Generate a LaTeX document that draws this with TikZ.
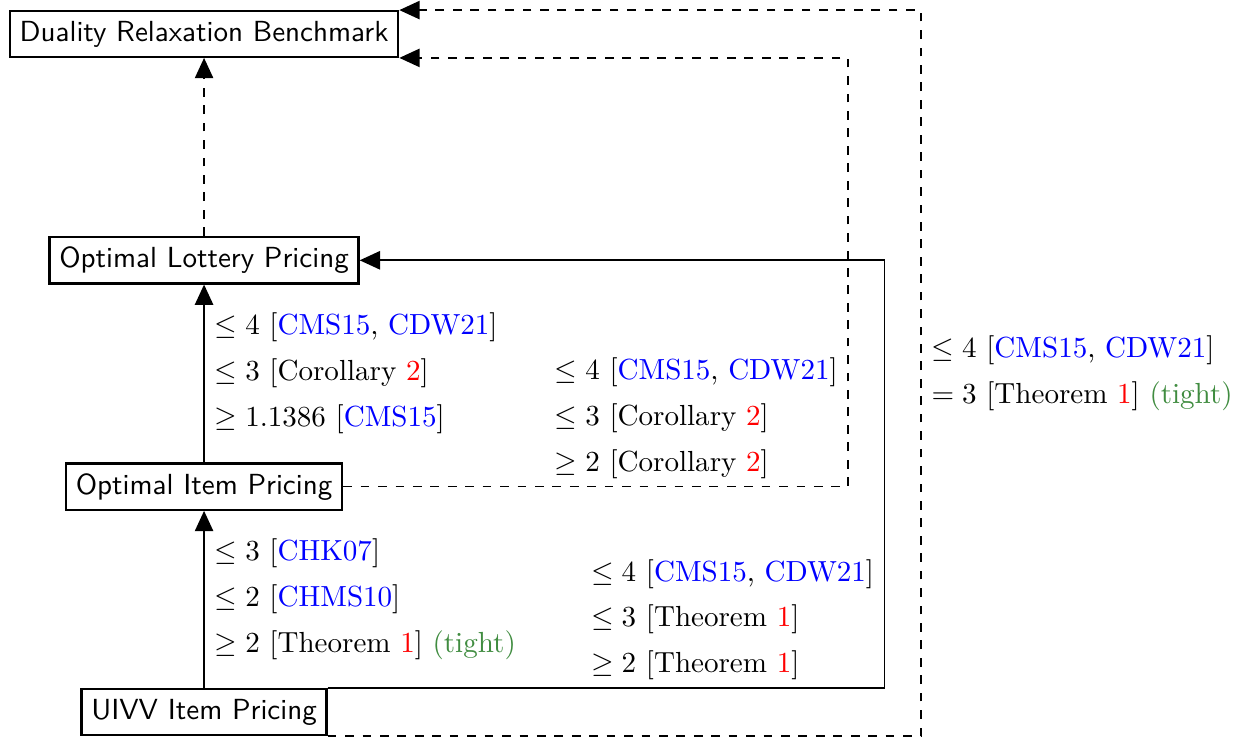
\documentclass[tikz,border=0pt]{standalone}
\usepackage{tikz}
\usetikzlibrary{positioning}
\usetikzlibrary{arrows.meta}
\usetikzlibrary{calc}

\begin{document}
\begin{tikzpicture}
  [box/.style={draw=black,thick,font=\sffamily,inner sep=3.33pt},
  bound/.style={align=left,inner sep=3.33pt,draw=none},
  every path/.style={semithick},
  >={Triangle[length=7pt,width=6.3pt]}]
  \useasboundingbox (-2.468,0.411) rectangle (12.565,-8.542);

  \node[box] (drb) at (0,0) {Duality Relaxation Benchmark};
  \node[box] (olp) at (0,-2.737) {Optimal Lottery Pricing};
  \node[box] (oip) at (0,-5.474) {Optimal Item Pricing};
  \node[box] (uivv) at (0,-8.20) {UIVV Item Pricing};

  \coordinate (c1) at (7.79,0);
  \coordinate (c2) at (8.23,0);
  \coordinate (c3) at (8.67,0);

  \draw [->,dashed] (olp) -- (drb);

  \draw [->] (oip) -- (olp) node [midway,right,bound] {$\leq 4$ [\textcolor[rgb]{0.00,0.00,1.00}{CMS15}, \textcolor[rgb]{0.00,0.00,1.00}{CDW21}]\\[3.8pt]
    $\leq 3$ [Corollary \textcolor[rgb]{1.00,0.00,0.00}{2}]\\[3.8pt]
    $\geq 1.1386$ [\textcolor[rgb]{0.00,0.00,1.00}{CMS15}]};

  \draw [->] (uivv) -- (oip) node [midway,right,bound] {$\leq 3$ [\textcolor[rgb]{0.00,0.00,1.00}{CHK07}]\\[3.8pt]
    $\leq 2$ [\textcolor[rgb]{0.00,0.00,1.00}{CHMS10}]\\[3.8pt]
    $\geq 2$ [Theorem \textcolor[rgb]{1.00,0.00,0.00}{1}] \textcolor[rgb]{0.25,0.55,0.25}{(tight)}};

  \draw [->,dashed] (oip.east) -| node [pos=0.58,left,bound] {$\leq 4$ [\textcolor[rgb]{0.00,0.00,1.00}{CMS15}, \textcolor[rgb]{0.00,0.00,1.00}{CDW21}]\\[3.8pt]
    $\leq 3$ [Corollary \textcolor[rgb]{1.00,0.00,0.00}{2}]\\[3.8pt]
    $\geq 2$ [Corollary \textcolor[rgb]{1.00,0.00,0.00}{2}]} (c1 |- drb.south east) -- (drb.south east);

  \draw [->] (uivv.north east) -| node [pos=0.58,left,bound] {$\leq 4$ [\textcolor[rgb]{0.00,0.00,1.00}{CMS15}, \textcolor[rgb]{0.00,0.00,1.00}{CDW21}]\\[3.8pt]
    $\leq 3$ [Theorem \textcolor[rgb]{1.00,0.00,0.00}{1}]\\[3.8pt]
    $\geq 2$ [Theorem \textcolor[rgb]{1.00,0.00,0.00}{1}]} (c2 |- olp.east) -- (olp.east);

  \draw [->,dashed] (uivv.south east) -| node [pos=0.75,right,bound] {$\leq 4$ [\textcolor[rgb]{0.00,0.00,1.00}{CMS15}, \textcolor[rgb]{0.00,0.00,1.00}{CDW21}]\\[3.8pt]
    $= 3$ [Theorem \textcolor[rgb]{1.00,0.00,0.00}{1}] \textcolor[rgb]{0.25,0.55,0.25}{(tight)}} (c3 |- drb.north east) -- (drb.north east);
\end{tikzpicture}
\end{document}
